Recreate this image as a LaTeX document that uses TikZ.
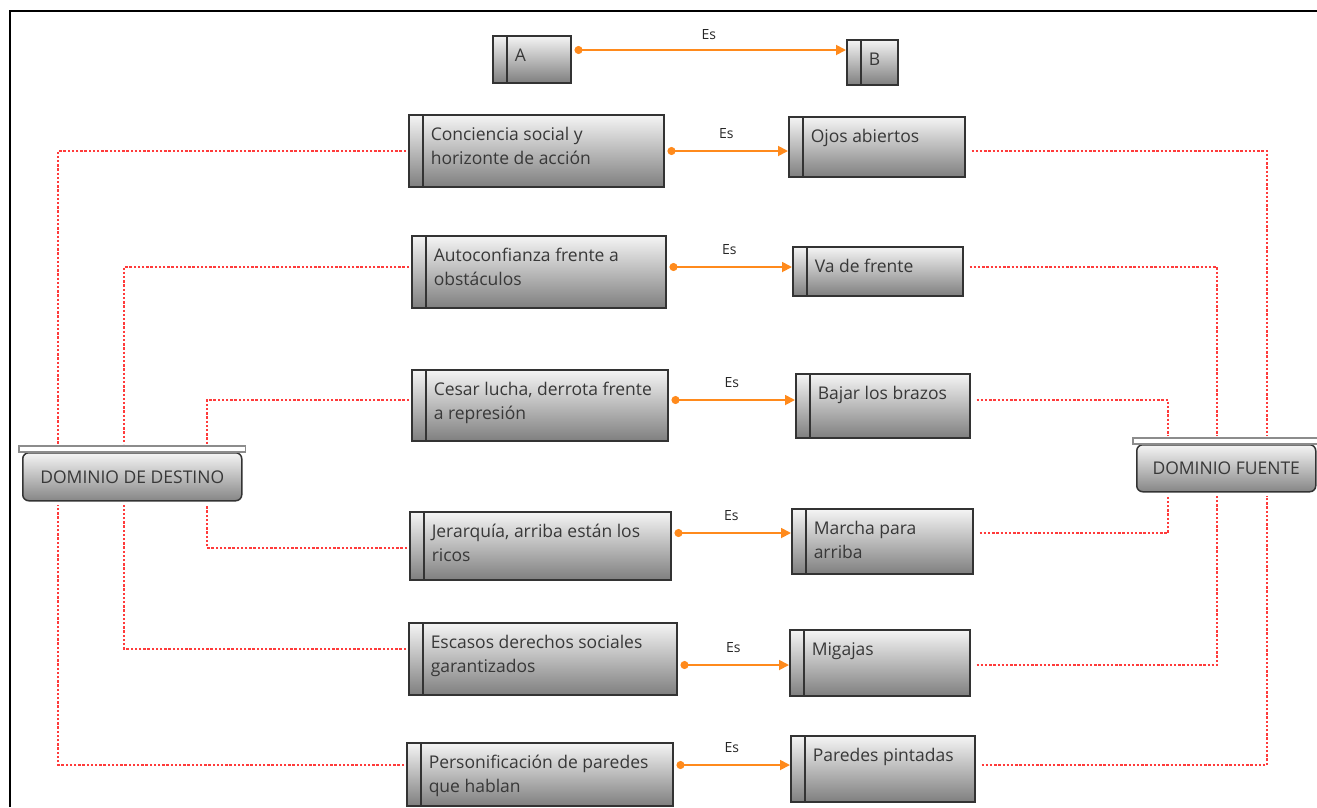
\documentclass[tikz,border=0pt]{standalone}
\usepackage{fontspec}
\setmainfont{Open Sans}
\usetikzlibrary{arrows.meta}

\definecolor{naranja}{HTML}{FF8A1C}
\definecolor{rojo}{HTML}{FF3B3B}
\definecolor{gristexto}{HTML}{383838}

% box content: width, height, text (top left)
\newcommand{\caja}[3]{\parbox[c][#2pt][t]{#1pt}{\raggedright\leftskip=22pt\relax\rule{0pt}{26pt}#3}}

\begin{document}
\begin{tikzpicture}[x=1pt,y=-1pt,
    concepto/.style={anchor=north west, draw=black!80, line width=1.5pt, inner sep=0pt,
        top color=gray!8, bottom color=gray, text=gristexto, font=\fontsize{17.5}{24}\selectfont,
        path picture={\draw[black!80, line width=1.5pt] ([xshift=14pt]path picture bounding box.north west) -- ([xshift=14pt]path picture bounding box.south west);}},
    dominio/.style={anchor=north west, draw=black!80, line width=1.5pt, rounded corners=6pt,
        top color=gray!8, bottom color=gray!95, text=gristexto, font=\fontsize{17.5}{18}\selectfont},
    tapa/.style={draw=gray!90, fill=white, line width=1.2pt},
    es/.style={naranja, line width=1.8pt, shorten <=3pt, {Circle[length=8pt]}-{Triangle[length=10pt,width=10pt]}},
    etiqueta/.style={text=black!85, font=\fontsize{14}{16}\selectfont},
    enlace/.style={rojo, line width=1.3pt, dash pattern=on 2.4pt off 1.8pt}]

    \useasboundingbox (0,0) rectangle (1317,807);
    \draw[line width=1.5pt] (10,807) |- (1317,11);

    % Concepts
    \node[concepto] (a) at (492,35) {\caja{78}{47}{A}};
    \node[concepto] (b) at (846,39) {\caja{51}{45}{B}};

    \node[concepto] (c1) at (408,114) {\caja{255}{72}{Conciencia social y\\horizonte de acción}};
    \node[concepto] (o1) at (788,116) {\caja{176}{60}{Ojos abiertos}};
    \node[concepto] (c2) at (411,235) {\caja{254}{72}{Autoconfianza frente a\\obstáculos}};
    \node[concepto] (o2) at (792,246) {\caja{170}{49}{Va de frente}};
    \node[concepto] (c3) at (411,369) {\caja{256}{71}{Cesar lucha, derrota frente\\a represión}};
    \node[concepto] (o3) at (795,373) {\caja{174}{64}{Bajar los brazos}};
    \node[concepto] (c4) at (409,511) {\caja{261}{68}{Jerarquía, arriba están los\\ricos}};
    \node[concepto] (o4) at (791,508) {\caja{181}{65}{Marcha para\\arriba}};
    \node[concepto] (c5) at (408,622) {\caja{268}{72}{Escasos derechos sociales\\garantizados}};
    \node[concepto] (o5) at (789,629) {\caja{180}{66}{Migajas}};
    \node[concepto] (c6) at (406,742) {\caja{266}{63}{Personificación de paredes\\que hablan}};
    \node[concepto] (o6) at (790,735) {\caja{184}{66}{Paredes pintadas}};

    % Domains
    \node[dominio, minimum width=219pt, minimum height=48pt] (destino) at (22,452) {DOMINIO DE DESTINO};
    \draw[tapa] ([xshift=-3pt]destino.north west) rectangle ([xshift=3pt,yshift=6pt]destino.north east);
    \node[dominio, minimum width=179pt, minimum height=47pt] (fuente) at (1136,444) {DOMINIO FUENTE};
    \draw[tapa] ([xshift=-3pt]fuente.north west) rectangle ([xshift=3pt,yshift=6pt]fuente.north east);

    % Arrows
    \draw[es] (a.east |- 0,50) -- (b.west |- 0,50) node[midway, above=6pt, etiqueta] {Es};
    \foreach \c/\o/\y in {c1/o1/151, c2/o2/267, c3/o3/400, c4/o4/533, c5/o5/665, c6/o6/765}
        \draw[es] (\c.east |- 0,\y) -- (\o.west |- 0,\y) node[midway, above=8pt, etiqueta] {Es};

    % Links to the domains
    \draw[enlace, shorten <=2pt, shorten >=8pt] (c1.west |- 0,151) -| (destino.north -| 58,0);
    \draw[enlace, shorten <=2pt, shorten >=3pt] (c6.west |- 0,765) -| (destino.south -| 58,0);
    \draw[enlace, shorten <=2pt, shorten >=8pt] (c2.west |- 0,267) -| (destino.north -| 124,0);
    \draw[enlace, shorten <=2pt, shorten >=3pt] (c5.west |- 0,649) -| (destino.south -| 124,0);
    \draw[enlace, shorten <=2pt, shorten >=8pt] (c3.west |- 0,400) -| (destino.north -| 207,0);
    \draw[enlace, shorten <=2pt, shorten >=3pt] (c4.west |- 0,548) -| (destino.south -| 207,0);

    \draw[enlace, shorten <=6pt, shorten >=8pt] (o1.east |- 0,151) -| (fuente.north -| 1267,0);
    \draw[enlace, shorten <=6pt, shorten >=3pt] (o6.east |- 0,765) -| (fuente.south -| 1267,0);
    \draw[enlace, shorten <=6pt, shorten >=8pt] (o2.east |- 0,267) -| (fuente.north -| 1217,0);
    \draw[enlace, shorten <=6pt, shorten >=3pt] (o5.east |- 0,665) -| (fuente.south -| 1217,0);
    \draw[enlace, shorten <=6pt, shorten >=8pt] (o3.east |- 0,400) -| (fuente.north -| 1168,0);
    \draw[enlace, shorten <=6pt, shorten >=3pt] (o4.east |- 0,533) -| (fuente.south -| 1168,0);

\end{tikzpicture}
\end{document}
